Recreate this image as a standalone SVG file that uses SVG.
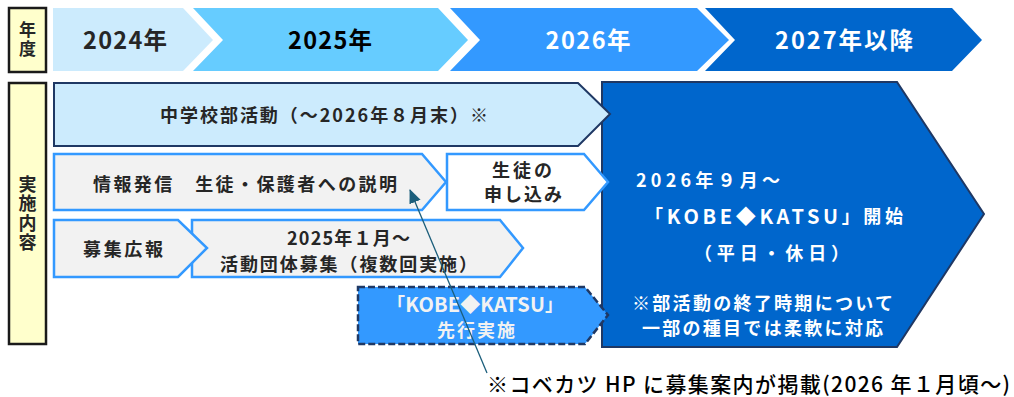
<svg xmlns="http://www.w3.org/2000/svg" width="1014" height="397" viewBox="0 0 1014 397">
<style>
text{font-family:"Noto Sans CJK JP","Noto Sans",sans-serif;font-weight:bold;dominant-baseline:central}
.c{text-anchor:middle}
.s{text-anchor:start}
.dk{fill:#262626}
.wh{fill:#ffffff}
.lbl{fill:#ffffcc;stroke:#1a1a1a;stroke-width:2.5}
.v{writing-mode:tb;text-anchor:middle;font-size:17px;fill:#262626}
.gray{fill:#f2f2f2;stroke:#3399ff;stroke-width:2.5;stroke-linejoin:miter}
.yr{font-size:23.5px}
.b{font-size:18px}
.lat{font-size:20px}
</style>
<defs>
<marker id="ah" viewBox="0 0 14 12" markerWidth="14" markerHeight="12" refX="13" refY="6" orient="auto" markerUnits="userSpaceOnUse">
<path d="M0,0 L14,6 L0,12 Z" fill="#1b5e7b"/>
</marker>
</defs>
<rect width="1014" height="397" fill="#ffffff"/>

<g id="label-nendo">
<rect class="lbl" x="9" y="8" width="37" height="64"/>
<text class="v" x="27.5" y="40.5" style="letter-spacing:2px">年度</text>
</g>
<g id="label-naiyou">
<rect class="lbl" x="9" y="83" width="37" height="261"/>
<text class="v" x="27.5" y="214" style="font-size:18px;letter-spacing:1.5px">実施内容</text>
</g>

<g id="year-2024">
<path d="M53,8 H183 L213,40 L183,71 H53 Z" fill="#ccebfd"/>
<text class="c yr" x="125" y="39" textLength="84" fill="#262626">2024年</text>
</g>
<g id="year-2025">
<path d="M193,8 H438 L468,40 L438,71 H193 L223,40 Z" fill="#66ccff"/>
<text class="c yr" x="330" y="39" textLength="84" fill="#000000">2025年</text>
</g>
<g id="year-2026">
<path d="M450,8 H697 L729,40 L697,71 H450 L480,40 Z" fill="#3399ff"/>
<text class="c yr wh" x="588" y="39" textLength="85">2026年</text>
</g>
<g id="year-2027">
<path d="M705,8 H952 L982,40 L952,71 H705 L735,40 Z" fill="#0066cc"/>
<text class="c yr wh" x="844" y="39" textLength="138">2027年以降</text>
</g>

<g id="kobe-start">
<path d="M602,82 H897 L984,214 L897,347 H602 Z" fill="#0066cc" stroke="#1f3864" stroke-width="2"/>
<text class="s b wh" x="636" y="179" textLength="144">2026年９月～</text>
<text class="c b wh" x="774" y="215" textLength="258">「<tspan class="lat">KOBE◆KATSU</tspan>」開始</text>
<text class="c b wh" x="771.5" y="252" textLength="155">（平日・休日）</text>
<text class="c b wh" x="762.5" y="302" textLength="261">※部活動の終了時期について</text>
<text class="c b wh" x="762.5" y="327" textLength="241">一部の種目では柔軟に対応</text>
</g>

<g id="school-club">
<path d="M54,83 H578 L610,114 L578,146 H54 Z" fill="#ccebfd" stroke="#1f3864" stroke-width="2"/>
<text class="s b dk" x="160" y="114" textLength="328">中学校部活動（～2026年８月末）※</text>
</g>

<g id="info">
<path class="gray" d="M54,154 H422 L446,182 L422,210 H54 Z"/>
<text class="s b dk" x="93" y="183" textLength="304">情報発信　生徒・保護者への説明</text>
</g>

<g id="apply">
<path d="M447,154 H584 L608,182 L584,210 H447 Z" fill="#ffffff" stroke="#3399ff" stroke-width="2.5"/>
<text class="c b dk" x="522" y="169" textLength="60">生徒の</text>
<text class="c b dk" x="523" y="193" textLength="78">申し込み</text>
</g>

<g id="recruit-groups">
<path class="gray" d="M192,220 H500 L523,248 L500,277 H192 Z"/>
<text class="c b dk" x="348.5" y="237" textLength="123">2025年１月～</text>
<text class="c b dk" x="348.5" y="263" textLength="257">活動団体募集（複数回実施）</text>
</g>

<g id="pr">
<path class="gray" d="M54,220 H178 L207,248 L178,277 H54 Z"/>
<text class="c b dk" x="123" y="248" textLength="80">募集広報</text>
</g>

<g id="kobe-pilot">
<path d="M358,287 H585 L608,315 L585,344 H358 Z" fill="#3399ff" stroke="#1f3864" stroke-width="2.5" stroke-dasharray="7,3"/>
<text class="c b" x="475" y="303" textLength="176" fill="#f2f2f2">「<tspan class="lat">KOBE◆KATSU</tspan>」</text>
<text class="c b" x="476" y="329" textLength="78" fill="#f2f2f2">先行実施</text>
</g>

<g id="connectors">
<line x1="487" y1="373" x2="410" y2="190" stroke="#1b5e7b" stroke-width="1.3" marker-end="url(#ah)"/>
</g>

<g id="note">
<text class="s" x="487" y="383" textLength="523" style="font-size:21px;font-weight:500" fill="#000000">※コベカツ HP に募集案内が掲載(2026 年１月頃～)</text>
</g>
</svg>
